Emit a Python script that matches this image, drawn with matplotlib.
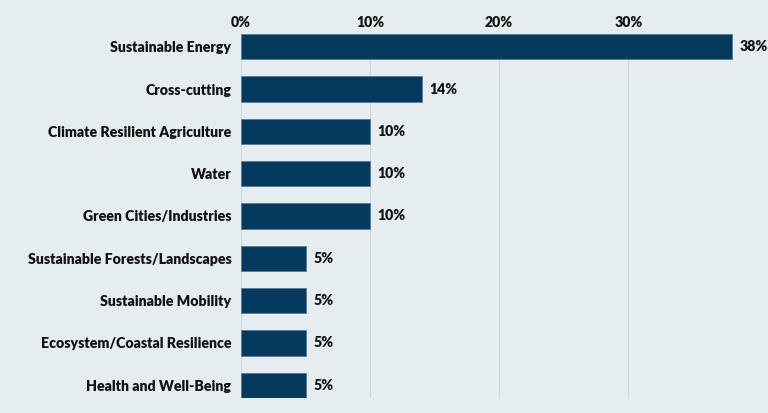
import matplotlib
matplotlib.use("Agg")
import matplotlib.pyplot as plt
from matplotlib.ticker import FixedLocator

categories = ["Sustainable Energy", "Cross-cutting", "Climate Resilient Agriculture",
              "Water", "Green Cities/Industries", "Sustainable Forests/Landscapes",
              "Sustainable Mobility", "Ecosystem/Coastal Resilience", "Health and Well-Being"]
values = [38, 14, 10, 10, 10, 5, 5, 5, 5]
xticks = [0, 10, 20, 30]
xtick_labels = ["0%", "10%", "20%", "30%"]

BG = "#e6edf1"
BAR = "#053a5e"
GRID = "#d0d8de"
TXT = "#111111"

plt.rcParams['font.family'] = ['Lato', 'DejaVu Sans']
FS = 10.2

fig = plt.figure(figsize=(7.68, 4.13), dpi=100, facecolor=BG)
ax = fig.add_axes([241/768, 1-398/413, (738-241)/768, (398-34)/413])
ax.set_facecolor(BG)

y = list(range(len(categories)))
h = 0.6
ax.barh(y, values, height=h, color=BAR, edgecolor="#5a7a94", linewidth=0.6, zorder=3)
ax.set_ylim(len(categories) - 1 + h/2, -h/2)
ax.set_xlim(0, 38.5)

ax.xaxis.set_major_locator(FixedLocator(xticks))
ax.set_xticklabels(xtick_labels)
ax.xaxis.tick_top()
ax.tick_params(axis='x', length=0, pad=3.5, labelsize=FS, labelcolor=TXT)
for lbl in ax.get_xticklabels():
    lbl.set_fontweight('heavy')
ax.set_yticks(y)
ax.set_yticklabels(categories, fontweight='heavy')
ax.tick_params(axis='y', length=0, pad=7, labelsize=FS, labelcolor=TXT)

ax.grid(axis='x', color=GRID, linewidth=0.9, zorder=0)
for s in ax.spines.values():
    s.set_visible(False)

for yi, v in zip(y, values):
    ax.annotate(f"{v}%", xy=(v, yi), xytext=(5.5, 0), textcoords='offset points',
                va='center', ha='left', fontsize=FS, fontweight='heavy', color=TXT)

fig.savefig("out.png", dpi=100, facecolor=BG)
